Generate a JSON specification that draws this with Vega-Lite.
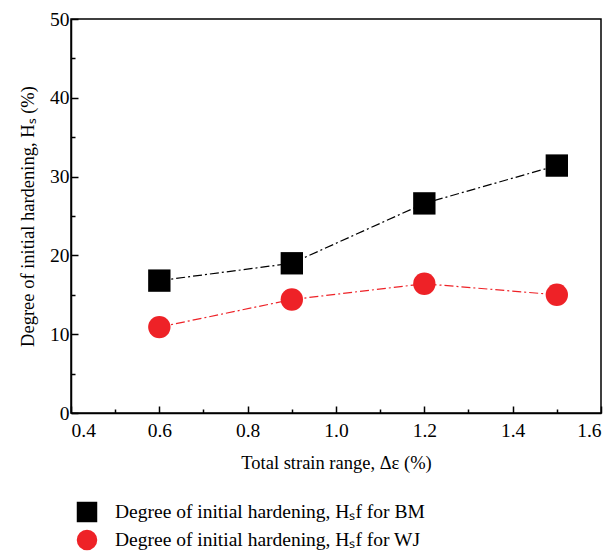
{
  "$schema": "https://vega.github.io/schema/vega-lite/v6.json",
  "width": 530,
  "height": 394,
  "autosize": "none",
  "padding": {"left": 71, "top": 19, "right": 12, "bottom": 145},
  "background": "white",
  "config": {
    "font": "Liberation Serif",
    "view": {"stroke": "black", "strokeWidth": 1.5},
    "axis": {"grid": false, "domainColor": "black", "tickColor": "black", "labelColor": "black", "titleColor": "black", "labelFont": "Liberation Serif", "titleFont": "Liberation Serif", "labelFontSize": 19.5, "titleFontSize": 18.5, "titleFontWeight": "normal", "domainWidth": 1.5, "tickWidth": 1.5},
    "legend": {"orient": "none", "legendX": 5, "legendY": 482, "title": null, "labelFontSize": 19.5, "labelFont": "Liberation Serif", "labelColor": "black", "symbolSize": 420, "rowPadding": 6, "labelOffset": 17, "labelLimit": 500}
  },
  "data": {"values": [
    {"strain": 0.6, "hs": 16.8, "series": "Degree of initial hardening, Hₛf for BM"},
    {"strain": 0.9, "hs": 19.0, "series": "Degree of initial hardening, Hₛf for BM"},
    {"strain": 1.2, "hs": 26.6, "series": "Degree of initial hardening, Hₛf for BM"},
    {"strain": 1.5, "hs": 31.4, "series": "Degree of initial hardening, Hₛf for BM"},
    {"strain": 0.6, "hs": 10.9, "series": "Degree of initial hardening, Hₛf for WJ"},
    {"strain": 0.9, "hs": 14.4, "series": "Degree of initial hardening, Hₛf for WJ"},
    {"strain": 1.2, "hs": 16.4, "series": "Degree of initial hardening, Hₛf for WJ"},
    {"strain": 1.5, "hs": 15.0, "series": "Degree of initial hardening, Hₛf for WJ"}
  ]},
  "resolve": {"axis": {"x": "independent", "y": "independent"}},
  "layer": [
    {
      "mark": {"type": "point", "opacity": 0},
      "encoding": {
        "x": {"field": "strain", "type": "quantitative", "scale": {"domain": [0.4, 1.6], "nice": false},
          "axis": {"orient": "bottom", "values": [0.5, 0.7, 0.9, 1.1, 1.3, 1.5], "labels": false, "title": null, "domain": false, "tickSize": -4}},
        "y": {"field": "hs", "type": "quantitative", "scale": {"domain": [0, 50], "nice": false},
          "axis": {"orient": "left", "values": [5, 15, 25, 35, 45], "labels": false, "title": null, "domain": false, "tickSize": -4}}
      }
    },
    {
      "mark": {"type": "line", "strokeWidth": 1.2, "strokeDash": [9, 3, 2, 3]},
      "encoding": {
        "x": {"field": "strain", "type": "quantitative", "scale": {"domain": [0.4, 1.6], "nice": false},
          "axis": {"orient": "bottom", "values": [0.4, 0.6, 0.8, 1.0, 1.2, 1.4, 1.6], "format": ".1f", "tickSize": -7, "labelPadding": 15, "title": "Total strain range, Δε (%)", "titlePadding": 14}},
        "y": {"field": "hs", "type": "quantitative", "scale": {"domain": [0, 50], "nice": false},
          "axis": {"orient": "left", "values": [0, 10, 20, 30, 40, 50], "tickSize": -7, "labelPadding": 9, "title": "Degree of initial hardening, Hₛ (%)", "titlePadding": 12}},
        "stroke": {"field": "series", "type": "nominal", "scale": {"range": ["black", "#ee2227"]}, "legend": null}
      }
    },
    {
      "mark": {"type": "point", "filled": true, "opacity": 1, "size": 500},
      "encoding": {
        "x": {"field": "strain", "type": "quantitative", "scale": {"domain": [0.4, 1.6], "nice": false}, "axis": null},
        "y": {"field": "hs", "type": "quantitative", "scale": {"domain": [0, 50], "nice": false}, "axis": null},
        "color": {"field": "series", "type": "nominal", "scale": {"range": ["black", "#ee2227"]}},
        "shape": {"field": "series", "type": "nominal", "scale": {"range": ["square", "circle"]}}
      }
    }
  ]
}
